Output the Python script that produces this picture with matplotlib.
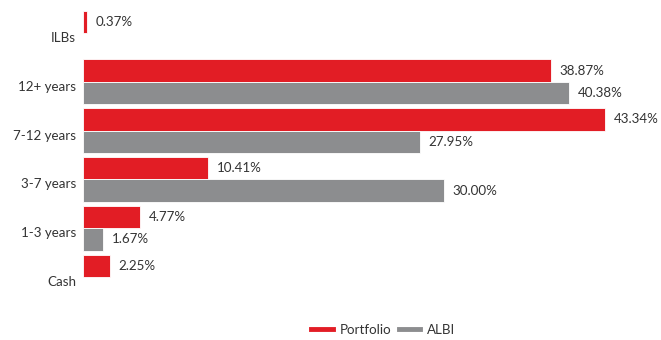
import matplotlib.pyplot as plt
import matplotlib.transforms as mtransforms
from matplotlib.lines import Line2D
import numpy as np

categories = ['ILBs', '12+ years', '7-12 years', '3-7 years', '1-3 years', 'Cash']
portfolio = [0.37, 38.87, 43.34, 10.41, 4.77, 2.25]
albi = [0, 40.38, 27.95, 30.00, 1.67, 0]

red = '#e21d25'
grey = '#8c8d8f'
txt = '#333333'

plt.rcParams['font.family'] = ['Lato', 'DejaVu Sans']

fig = plt.figure(figsize=(6.61, 3.40), dpi=100)
ax = fig.add_axes([0.1256, 0.1135, 0.82, 0.8612])

y = np.arange(len(categories))
h = 0.46
ax.barh(y - h / 2, portfolio, height=h, color=red, edgecolor='white', linewidth=0.6)
ax.barh(y + h / 2, albi, height=h, color=grey, edgecolor='white', linewidth=0.6)

for i in range(len(categories)):
    if portfolio[i] > 0:
        ax.annotate(f'{portfolio[i]:.2f}%', (portfolio[i], y[i] - h / 2),
                    xytext=(6, 0), textcoords='offset points',
                    va='center', ha='left', fontsize=9.6, color=txt)
    if albi[i] > 0:
        ax.annotate(f'{albi[i]:.2f}%', (albi[i], y[i] + h / 2),
                    xytext=(6, 0), textcoords='offset points',
                    va='center', ha='left', fontsize=9.6, color=txt)

ax.set_xlim(0, 45)
ax.set_ylim(-0.5, len(categories) - 0.5)
ax.invert_yaxis()
ax.set_yticks(y)
ax.set_yticklabels(categories, fontsize=9.6, color=txt)
ax.tick_params(axis='y', length=0, pad=5)
ax.set_xticks([])
for lab in ax.get_yticklabels():
    lab.set_transform(lab.get_transform() + mtransforms.ScaledTranslation(0, -0.04, fig.dpi_scale_trans))
for s in ax.spines.values():
    s.set_visible(False)

handles = [Line2D([0], [0], color=red, lw=3.5), Line2D([0], [0], color=grey, lw=3.5)]
fig.legend(handles, ['Portfolio', 'ALBI'], loc='center', bbox_to_anchor=(0.58, 0.03),
           ncol=2, frameon=False, fontsize=9.6, handlelength=1.6, handletextpad=0.5,
           columnspacing=0.6, labelcolor=txt)

fig.savefig('out.png', dpi=100)
